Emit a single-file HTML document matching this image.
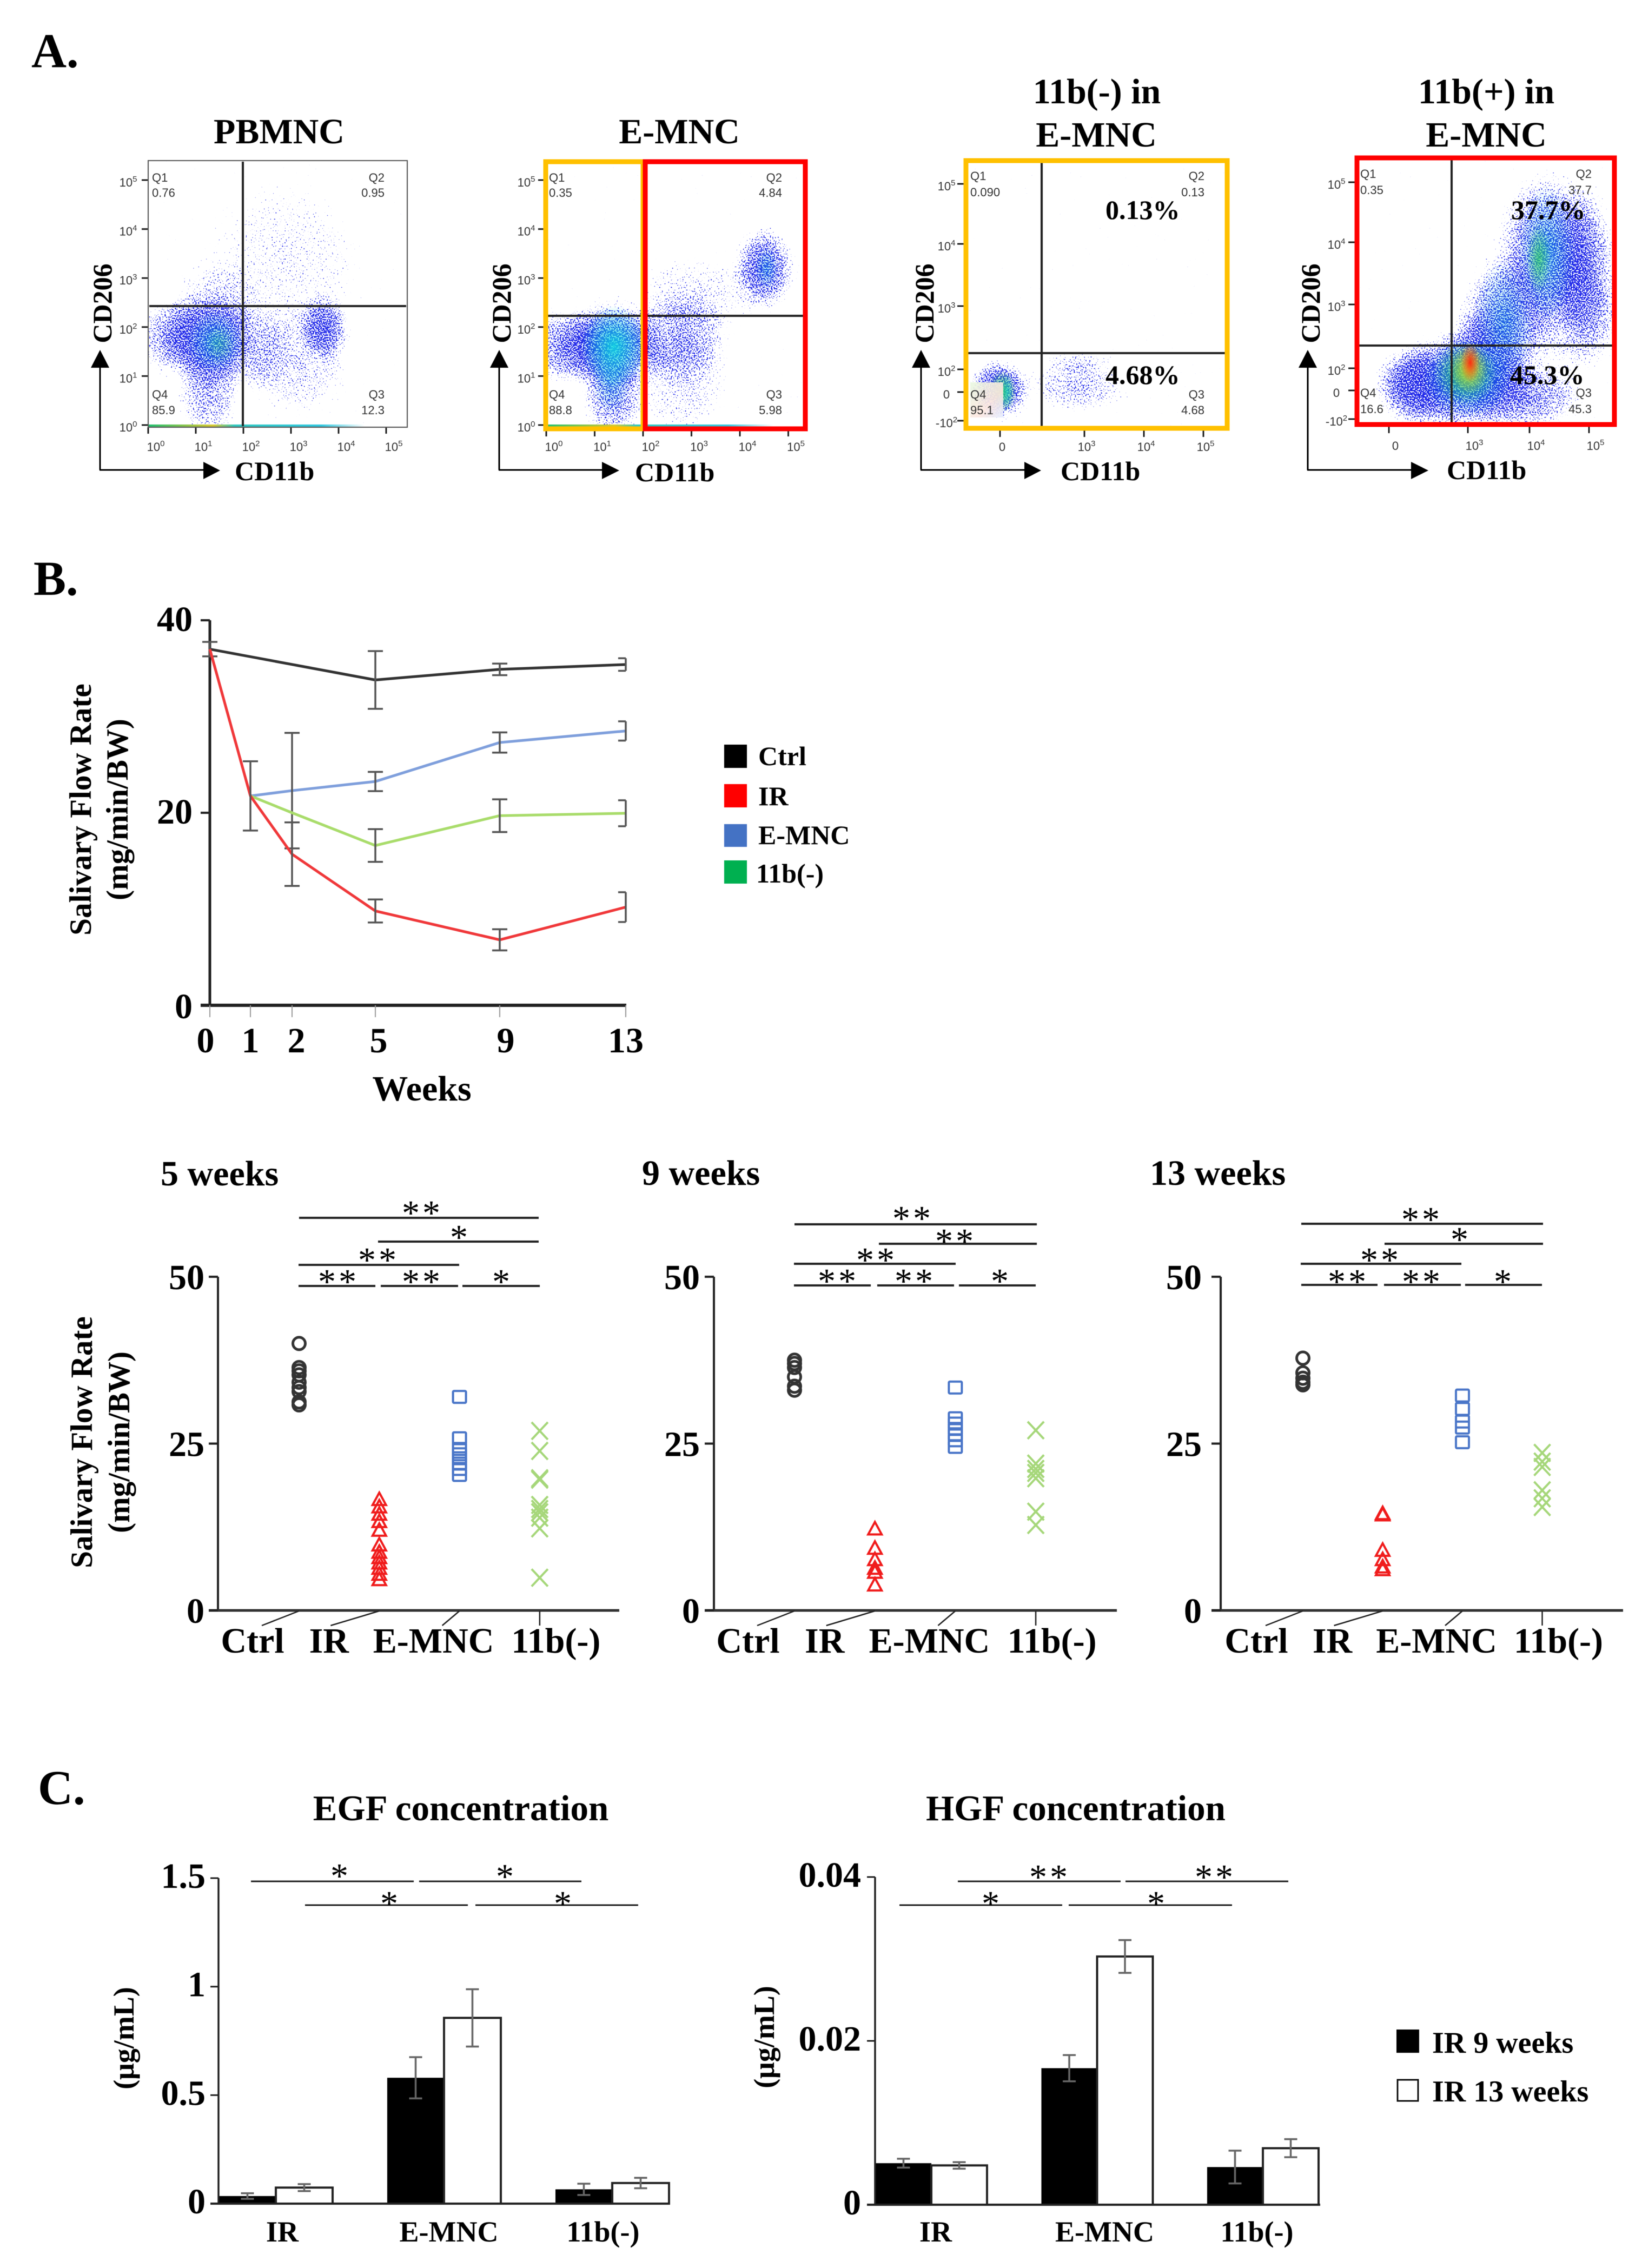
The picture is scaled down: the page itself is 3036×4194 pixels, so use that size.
<!DOCTYPE html>
<html>
<head>
<meta charset="utf-8">
<title>Flow cytometry and salivary flow figure</title>
<style>
html,body{margin:0;padding:0;background:#fff;}
svg{display:block;filter:blur(0.8px);}
text{font-family:"Liberation Serif",serif;font-weight:bold;fill:#000;}
.panel{font-size:90px;}
.t66{font-size:66px;}
.t67{font-size:67px;}
.t50{font-size:50px;}
.t58{font-size:57px;}
.t54{font-size:54px;}
.t56{font-size:56px;}
.pct{font-size:50px;}
.sm{font-family:"Liberation Sans",sans-serif;font-weight:normal;font-size:22px;fill:#333;}
.sup{font-size:15px;}
.star{font-weight:normal;font-size:66px;letter-spacing:5px;}
</style>
</head>
<body>
<svg id="figure" xmlns="http://www.w3.org/2000/svg" width="3036" height="4194" viewBox="0 0 3036 4194">
<defs>
<radialGradient id="lobeFill"><stop offset="0" stop-color="#000" stop-opacity="1"/><stop offset="0.55" stop-color="#000" stop-opacity="0.72"/><stop offset="1" stop-color="#000" stop-opacity="0"/></radialGradient>
<radialGradient id="coreCyan"><stop offset="0" stop-color="#12e4e0" stop-opacity="0.95"/><stop offset="1" stop-color="#12e4e0" stop-opacity="0"/></radialGradient>
<radialGradient id="coreGreen"><stop offset="0" stop-color="#2ccf5a" stop-opacity="0.95"/><stop offset="1" stop-color="#2ccf5a" stop-opacity="0"/></radialGradient>
<radialGradient id="coreYellow"><stop offset="0" stop-color="#e8d820" stop-opacity="0.95"/><stop offset="1" stop-color="#e8d820" stop-opacity="0"/></radialGradient>
<radialGradient id="coreRed"><stop offset="0" stop-color="#ff2a10" stop-opacity="1"/><stop offset="1" stop-color="#ff5a10" stop-opacity="0"/></radialGradient>
<linearGradient id="stripFill" x1="0" x2="1" y1="0" y2="0"><stop offset="0" stop-color="#20c070"/><stop offset="0.3" stop-color="#d8c830"/><stop offset="0.4" stop-color="#30c8c0"/><stop offset="0.8" stop-color="#30c8e0"/><stop offset="1" stop-color="#ffffff"/></linearGradient>
<linearGradient id="paleFill" x1="0" x2="1" y1="0" y2="1"><stop offset="0" stop-color="#e8f8e0"/><stop offset="0.6" stop-color="#fde8e0"/><stop offset="1" stop-color="#e4ecff"/></linearGradient>
<filter id="speckle" x="0" y="0" width="1" height="1" color-interpolation-filters="sRGB">
<feTurbulence type="fractalNoise" baseFrequency="0.42" numOctaves="1" seed="7" result="n"/>
<feColorMatrix in="n" type="matrix" values="0 0 0 0 0  0 0 0 0 0  0 0 0 0 0  2.4 0 0 0 -0.95" result="na"/>
<feComposite in="SourceAlpha" in2="na" operator="arithmetic" k1="0" k2="1" k3="1" k4="-1" result="sum"/>
<feComponentTransfer in="sum" result="mask"><feFuncA type="linear" slope="12"/></feComponentTransfer>
<feFlood flood-color="#1c24e8"/>
<feComposite in2="mask" operator="in"/>
</filter>
<clipPath id="clip-pbmnc"><rect x="274" y="297" width="479" height="493"/></clipPath>
<clipPath id="clip-emnc"><rect x="1007" y="297" width="484" height="498"/></clipPath>
<clipPath id="clip-neg"><rect x="1782" y="293" width="491" height="503"/></clipPath>
<clipPath id="clip-pos"><rect x="2505" y="288" width="484" height="501"/></clipPath>
</defs>
<rect x="0" y="0" width="3036" height="4194" fill="#fff"/>

<text class="panel" x="58" y="124">A.</text>
<text class="panel" x="62" y="1100">B.</text>
<text class="panel" x="70" y="3336">C.</text>

<text class="t66" x="516" y="265" text-anchor="middle">PBMNC</text>
<text class="t66" x="1256" y="265" text-anchor="middle">E-MNC</text>
<text class="t66" x="2028" y="191" text-anchor="middle">11b(-) in</text>
<text class="t66" x="2027" y="271" text-anchor="middle">E-MNC</text>
<text class="t66" x="2748" y="191" text-anchor="middle">11b(+) in</text>
<text class="t66" x="2748" y="271" text-anchor="middle">E-MNC</text>

<g id="flow-layer"></g>

<g>
<text class="t50" transform="translate(206 561) rotate(-90)" text-anchor="middle">CD206</text>
<text class="t50" x="434" y="888">CD11b</text>
<text class="t50" transform="translate(944 561) rotate(-90)" text-anchor="middle">CD206</text>
<text class="t50" x="1174" y="890">CD11b</text>
<text class="t50" transform="translate(1726 561) rotate(-90)" text-anchor="middle">CD206</text>
<text class="t50" x="1961" y="888">CD11b</text>
<text class="t50" transform="translate(2440 561) rotate(-90)" text-anchor="middle">CD206</text>
<text class="t50" x="2675" y="886">CD11b</text>
</g>
<text class="pct" x="2044" y="405">0.13%</text>
<text class="pct" x="2044" y="710">4.68%</text>
<text class="pct" x="2794" y="405">37.7%</text>
<text class="pct" x="2792" y="710">45.3%</text>

<g id="line-chart"></g>
<text class="t58" transform="translate(168 1497) rotate(-90)" text-anchor="middle">Salivary Flow Rate</text>
<text class="t58" transform="translate(236 1497) rotate(-90)" text-anchor="middle">(mg/min/BW)</text>
<text class="t66" x="780" y="2035" text-anchor="middle">Weeks</text>
<g>
<rect x="1339" y="1377" width="42" height="43" fill="#000"/>
<text class="t50" x="1402" y="1415">Ctrl</text>
<rect x="1339" y="1450" width="42" height="43" fill="#ff0000"/>
<text class="t50" x="1402" y="1489">IR</text>
<rect x="1339" y="1524" width="42" height="42" fill="#4472c4"/>
<text class="t50" x="1402" y="1561">E-MNC</text>
<rect x="1339" y="1591" width="42" height="43" fill="#00b050"/>
<text class="t50" x="1398" y="1632">11b(-)</text>
</g>

<text class="t66" x="297" y="2192">5 weeks</text>
<text class="t66" x="1187" y="2191">9 weeks</text>
<text class="t66" x="2126" y="2191">13 weeks</text>
<text class="t58" transform="translate(170 2667) rotate(-90)" text-anchor="middle">Salivary Flow Rate</text>
<text class="t58" transform="translate(239 2667) rotate(-90)" text-anchor="middle">(mg/min/BW)</text>
<g id="dot-charts"></g>

<text class="t67" x="852" y="3366" text-anchor="middle">EGF concentration</text>
<text class="t67" x="1989" y="3366" text-anchor="middle">HGF concentration</text>
<text class="t54" transform="translate(247 3769) rotate(-90)" text-anchor="middle">(μg/mL)</text>
<text class="t54" transform="translate(1431 3767) rotate(-90)" text-anchor="middle">(μg/mL)</text>
<g id="bar-charts"></g>
<g>
<rect x="2582" y="3753" width="42" height="43" fill="#000"/>
<text class="t56" x="2648" y="3796">IR 9 weeks</text>
<rect x="2584" y="3846" width="38" height="39" fill="#fff" stroke="#111" stroke-width="3"/>
<text class="t56" x="2648" y="3886">IR 13 weeks</text>
</g>

<script>
// ---------- Panel B data ----------
const weekTicks = [0, 1, 2, 5, 9, 13];
const lineYTicks = [0, 20, 40];
const ctrlWeeks = [0, 5, 9, 13];
const ctrlValues = [37, 33.8, 34.9, 35.4];
const ctrlErrors = [0.75, 3, 0.6, 0.65];
const irWeeks = [0, 1, 2, 5, 9, 13];
const irValues = [37, 21.75, 15.7, 9.8, 6.8, 10.2];
const irErrors = [0, 3.6, 3.3, 1.2, 1.1, 1.55];
const emncWeeks = [1, 2, 5, 9, 13];
const emncValues = [21.75, 22.3, 23.25, 27.3, 28.5];
const emncErrors = [0, 6, 1, 1.05, 1];
const subWeeks = [1, 2, 5, 9, 13];
const subValues = [21.75, 20, 16.6, 19.7, 19.95];
const subErrors = [0, 0, 1.7, 1.7, 1.35];

// ---------- Dot plot data ----------
const dotCategories = ['Ctrl', 'IR', 'E-MNC', '11b(-)'];
const dotYTicks = [0, 25, 50];
const w5Ctrl = [40, 36.4, 35.9, 35.3, 34.2, 33.4, 32.8, 31.25, 30.8];
const w5IR = [16.6, 15.5, 14.4, 13.3, 12, 9.8, 8.7, 7.9, 7.1, 6.3, 5.4, 4.6];
const w5EMNC = [32, 25.8, 24.2, 23.4, 22.8, 22, 21.2, 20.3];
const w5Sub = [26.9, 23.9, 19.8, 19.6, 15.8, 15.2, 14.7, 13.9, 12.3, 4.9];
const w9Ctrl = [37.5, 37, 36.4, 35, 33.6, 33];
const w9IR = [12.2, 9.3, 7.6, 6.3, 5.7, 3.8];
const w9EMNC = [33.4, 28.8, 28, 27.2, 26.4, 25.5, 24.5];
const w9Sub = [27, 22, 21.2, 20.6, 19.8, 14.8, 12.8];
const w13Ctrl = [37.8, 35.6, 34.8, 34.2, 33.8];
const w13IR = [14.5, 14.3, 9, 7.6, 6.5, 6.1];
const w13EMNC = [32.2, 30.2, 28.3, 27.4, 25.2];
const w13Sub = [23.6, 22.3, 21.5, 18, 16.8, 15.5];

// ---------- Panel C data ----------
const barCategories = ['IR', 'E-MNC', '11b(-)'];
const egfTicks = [0, 0.5, 1, 1.5];
const egfWeek9 = [0.035, 0.58, 0.066];
const egfWeek9Err = [0.013, 0.095, 0.026];
const egfWeek13 = [0.074, 0.856, 0.095];
const egfWeek13Err = [0.016, 0.132, 0.024];
const hgfTicks = [0, 0.02, 0.04];
const hgfWeek9 = [0.00507, 0.01667, 0.0046];
const hgfWeek9Err = [0.00054, 0.0016, 0.002];
const hgfWeek13 = [0.0048, 0.0303, 0.0069];
const hgfWeek13Err = [0.0004, 0.002, 0.0011];

// ---------- Panel A density lobes: [cd11b, cd206, spreadX, spreadY, density] in axis decades ----------
const pbmncLobes = [[1.28,1.78,0.52,0.5,0.95],[1.28,0.73,0.36,0.55,0.7],[3.7,2.0,0.28,0.36,0.85],[3.15,1.28,0.62,0.6,0.5],[0.45,1.8,0.36,0.42,0.7],[2.2,1.6,0.4,0.5,0.5],[2.9,3.4,0.9,0.85,0.38],[1.4,2.6,0.5,0.4,0.42]];
const pbmncCores = [[1.4,1.7,0.3,0.32,'coreCyan',0.4],[1.5,1.65,0.16,0.2,'coreGreen',0.25]];
const emncLobes = [[1.37,1.63,0.56,0.5,1],[1.37,0.58,0.35,0.46,0.78],[0.4,1.6,0.5,0.42,0.78],[2.77,1.78,0.56,0.48,0.68],[4.5,3.2,0.34,0.46,0.92],[3.1,2.7,0.7,0.42,0.42],[2.8,0.8,0.55,0.55,0.45]];
const emncCores = [[1.4,1.6,0.34,0.42,'coreCyan',0.9],[1.35,0.9,0.2,0.34,'coreCyan',0.3],[4.55,3.2,0.12,0.22,'coreCyan',0.3]];
const negLobes = [[1.56,1.63,0.28,0.27,1.1],[2.88,1.69,0.46,0.24,0.58],[2.9,2.1,0.35,0.1,0.4]];
const negCores = [[1.62,1.6,0.12,0.17,'coreGreen',0.95],[1.7,1.6,0.05,0.14,'coreCyan',0.5]];
const posLobes = [[2.7,1.77,0.66,0.42,1.1],[3.64,2.77,0.42,0.58,0.88],[4.33,3.94,0.46,0.66,0.9],[2.09,1.72,0.3,0.3,0.7],[3.9,1.56,0.56,0.3,0.8],[4.94,3.6,0.3,0.72,0.7],[4.8,2.8,0.4,0.5,0.55],[3.2,2.2,0.36,0.4,0.75]];
const posCores = [[3.0,1.85,0.38,0.32,'coreCyan',0.5],[3.6,2.75,0.25,0.5,'coreCyan',0.3],[4.3,3.85,0.24,0.55,'coreCyan',0.4],[2.96,1.94,0.26,0.26,'coreGreen',0.8],[4.17,3.77,0.1,0.28,'coreGreen',0.7],[3.02,2.0,0.16,0.2,'coreYellow',0.85],[3.04,2.1,0.08,0.16,'coreRed',1]];
const decadeTicks = [0, 1, 2, 3, 4, 5];
const biexYTicks = ['-2', '0', 2, 3, 4, 5];
const biexXTicks = ['0', 3, 4, 5];

const SVGNS = 'http://www.w3.org/2000/svg';
function mk(tag, attrs, parent, content) {
  const e = document.createElementNS(SVGNS, tag);
  for (const k in attrs) e.setAttribute(k, attrs[k]);
  if (content !== undefined) e.textContent = content;
  parent.appendChild(e);
  return e;
}
function seg(parent, x1, y1, x2, y2, color, width) {
  return mk('line', {x1: x1, y1: y1, x2: x2, y2: y2, stroke: color, 'stroke-width': width}, parent);
}

// ---------- Flow plots ----------
const flowLayer = document.getElementById('flow-layer');
function tickLabel(parent, x, y, exponent) {
  const t = mk('text', {x: x, y: y, 'text-anchor': 'middle', 'class': 'sm'}, parent);
  
  
  if (exponent === '0') { t.textContent = '0'; return t; }
  const neg = exponent === '-2';
  t.textContent = (neg ? '-10' : '10');
  const s = mk('tspan', {dy: -9, 'class': 'sm sup', style: 'font-size:15px'}, t, neg ? '2' : String(exponent));
  
  
  return t;
}
function quadLabel(parent, x, y, str, anchor) {
  const t = mk('text', {x: x, y: y, 'class': 'sm', 'text-anchor': anchor}, parent, str);
  
  
}
function arrows(parent, vx, baseX, tipX) {
  const v = seg(parent, vx, 869, vx, 670, '#000', 3);
  
  
  const vh = mk('polygon', {points: vx + ',647 ' + (vx - 17) + ',680 ' + (vx + 17) + ',680', fill: '#000'}, parent);
  
  
  const h = seg(parent, vx - 1, 869, baseX, 869, '#000', 3);
  
  
  const hh = mk('polygon', {points: tipX + ',870 ' + baseX + ',854 ' + baseX + ',886', fill: '#000'}, parent);
  
  
}
function flowPlot(cfg) {
  const g = mk('g', {}, flowLayer);
  
  
  const clip = mk('g', {'clip-path': 'url(#' + cfg.clip + ')'}, g);
  
  
  const sp = mk('g', {filter: 'url(#speckle)'}, clip);
  
  
  mk('rect', {x: cfg.box[0], y: cfg.box[1], width: cfg.box[2], height: cfg.box[3], fill: '#000', 'fill-opacity': 0.02}, sp);
  cfg.lobes.forEach(function (l) {
    const e = mk('ellipse', {cx: cfg.x(l[0]), cy: cfg.y(l[1]), rx: Math.abs(cfg.x(l[2]) - cfg.x(0)) * 2.1, ry: Math.abs(cfg.y(l[3]) - cfg.y(0)) * 2.1, fill: 'url(#lobeFill)', 'fill-opacity': Math.min(1, l[4])}, sp);
    
    
  });
  cfg.cores.forEach(function (l) {
    const e = mk('ellipse', {cx: cfg.x(l[0]), cy: cfg.y(l[1]), rx: Math.abs(cfg.x(l[2]) - cfg.x(0)) * 2, ry: Math.abs(cfg.y(l[3]) - cfg.y(0)) * 2, fill: 'url(#' + l[4] + ')', 'fill-opacity': l[5]}, clip);
    
    
  });
  if (cfg.extra) cfg.extra(clip);
  const b = cfg.box;
  // ticks
  cfg.yTicks.forEach(function (p) {
    const t = seg(g, b[0] - 12, p.py, b[0], p.py, '#222', 3);
    
    
    tickLabel(g, cfg.yLabelX, p.py + 12, p.label);
  });
  cfg.xTicks.forEach(function (p) {
    const t = seg(g, p.px, b[1] + b[3], p.px, b[1] + b[3] + 12, '#222', 3);
    
    
    tickLabel(g, p.px + cfg.xLabelDx, cfg.xLabelY, p.label);
  });
  // gates
  const gv = seg(g, cfg.gateX, b[1] + 2, cfg.gateX, b[1] + b[3] - 2, '#222', 4);
  
  
  const gh = seg(g, b[0] + 2, cfg.gateY, b[0] + b[2] - 2, cfg.gateY, '#222', 4);
  
  
  cfg.frames.forEach(function (f) {
    const r = mk('rect', {x: f[0], y: f[1], width: f[2], height: f[3], fill: 'none', stroke: f[4], 'stroke-width': f[5]}, g);
    
    
  });
  quadLabel(g, cfg.qLeft, cfg.qRows[0], 'Q1', 'start');
  quadLabel(g, cfg.qLeft, cfg.qRows[1], cfg.q[0], 'start');
  quadLabel(g, cfg.qRight, cfg.qRows[0], 'Q2', 'end');
  quadLabel(g, cfg.qRight, cfg.qRows[1], cfg.q[1], 'end');
  quadLabel(g, cfg.qLeft, cfg.qRows[2], 'Q4', 'start');
  quadLabel(g, cfg.qLeft, cfg.qRows[3], cfg.q[2], 'start');
  quadLabel(g, cfg.qRight, cfg.qRows[2], 'Q3', 'end');
  quadLabel(g, cfg.qRight, cfg.qRows[3], cfg.q[3], 'end');
  arrows(g, cfg.arrow[0], cfg.arrow[1], cfg.arrow[2]);
}
function logX(x0, k) { return function (v) { return x0 + k * v; }; }
function logY(y0, k) { return function (v) { return y0 - k * v; }; }

const p1x = logX(274, 88), p1y = logY(786, 90.6);
flowPlot({name: 'pbmnc', clip: 'clip-pbmnc', box: [274, 297, 479, 493], lobes: pbmncLobes, cores: pbmncCores, x: p1x, y: p1y,
  yTicks: decadeTicks.map(function (d) { return {py: p1y(d), label: d}; }),
  xTicks: decadeTicks.map(function (d) { return {px: p1x(d), label: d}; }),
  yLabelX: 237, xLabelDx: 14, xLabelY: 834, gateX: 449, gateY: 566,
  frames: [[274, 297, 479, 493, '#555', 2]],
  qLeft: 281, qRight: 711, qRows: [336, 364, 737, 766], q: ['0.76', '0.95', '85.9', '12.3'], arrow: [185, 376, 407],
  extra: function (c) {
    const s = mk('rect', {x: 274, y: 785, width: 400, height: 5, fill: 'url(#stripFill)'}, c);
    
    
  }
});
const p2x = logX(1010, 89.5), p2y = logY(786, 90.6);
flowPlot({name: 'e-mnc', clip: 'clip-emnc', box: [1007, 297, 484, 498], lobes: emncLobes, cores: emncCores, x: p2x, y: p2y,
  yTicks: decadeTicks.map(function (d) { return {py: p2y(d), label: d}; }),
  xTicks: decadeTicks.map(function (d) { return {px: p2x(d), label: d}; }),
  yLabelX: 973, xLabelDx: 14, xLabelY: 834, gateX: 1191, gateY: 584,
  frames: [[1009, 299, 180, 494, '#ffc000', 9], [1193, 299, 296, 494, '#ff0000', 9]],
  qLeft: 1015, qRight: 1446, qRows: [336, 364, 737, 766], q: ['0.35', '4.84', '88.8', '5.98'], arrow: [923, 1113, 1145],
  extra: function (c) {
    const w = mk('rect', {x: 1012, y: 706, width: 58, height: 80, fill: '#fff'}, c);
    
    
    const s = mk('rect', {x: 1010, y: 785, width: 420, height: 5, fill: 'url(#stripFill)'}, c);
    
    
  }
});
const p3x = function (u) { return 2225 - (5 - u) * 110; }, p3y = function (u) { return 340 + (5 - u) * 113; };
flowPlot({name: '11b-negative', clip: 'clip-neg', box: [1782, 293, 491, 503], lobes: negLobes, cores: negCores, x: p3x, y: p3y,
  yTicks: [{py: 778, label: '-2'}, {py: 725, label: '0'}, {py: 683, label: 2}, {py: 566, label: 3}, {py: 451, label: 4}, {py: 340, label: 5}],
  xTicks: [{px: 1849, label: '0'}, {px: 2005, label: 3}, {px: 2115, label: 4}, {px: 2225, label: 5}],
  yLabelX: 1750, xLabelDx: 4, xLabelY: 834, gateX: 1926, gateY: 653,
  frames: [[1786, 297, 483, 495, '#ffc000', 9]],
  qLeft: 1794, qRight: 2227, qRows: [333, 363, 737, 766], q: ['0.090', '0.13', '95.1', '4.68'], arrow: [1703, 1894, 1925],
  extra: function (c) {
    const w = mk('rect', {x: 1794, y: 707, width: 61, height: 65, fill: 'url(#paleFill)', opacity: 0.92}, c);
    
    
  }
});
const p4x = function (u) { return 2938 - (5 - u) * 112; }, p4y = function (u) { return 337 + (5 - u) * 115; };
flowPlot({name: '11b-positive', clip: 'clip-pos', box: [2505, 288, 484, 501], lobes: posLobes, cores: posCores, x: p4x, y: p4y,
  yTicks: [{py: 775, label: '-2'}, {py: 722, label: '0'}, {py: 681, label: 2}, {py: 563, label: 3}, {py: 448, label: 4}, {py: 337, label: 5}],
  xTicks: [{px: 2568, label: '0'}, {px: 2714, label: 3}, {px: 2828, label: 4}, {px: 2938, label: 5}],
  yLabelX: 2471, xLabelDx: 12, xLabelY: 832, gateX: 2684, gateY: 639,
  frames: [[2509, 292, 476, 493, '#ff0000', 9]],
  qLeft: 2515, qRight: 2943, qRows: [329, 359, 734, 764], q: ['0.35', '37.7', '16.6', '45.3'], arrow: [2418, 2609, 2641]
});

// ---------- Line chart ----------
const lineG = document.getElementById('line-chart');
function xW(w) {
  if (w <= 1) return 388 + 75 * w;
  if (w <= 2) return 463 + 77 * (w - 1);
  if (w <= 5) return 540 + 51.33 * (w - 2);
  if (w <= 9) return 694 + 57.5 * (w - 5);
  return 924 + 58.25 * (w - 9);
}
function yFlow(v) { return 1859 - v * 17.8; }
function drawSeries(name, color, weeks, values, errors) {
  const s = mk('g', {}, lineG);
  
  
  const pts = weeks.map(function (w, i) { return xW(w) + ',' + yFlow(values[i]); }).join(' ');
  const line = mk('polyline', {points: pts, fill: 'none', stroke: color, 'stroke-width': 5, 'stroke-linejoin': 'round'}, s);
  
  
  weeks.forEach(function (w, i) {
    if (!errors[i]) return;
    const x = xW(w), top = yFlow(values[i] + errors[i]), bot = yFlow(values[i] - errors[i]);
    const right = w === 13 ? 0 : 14;
    const eb = mk('path', {d: 'M' + x + ' ' + top + 'V' + bot + 'M' + (x - 14) + ' ' + top + 'H' + (x + right) + 'M' + (x - 14) + ' ' + bot + 'H' + (x + right), fill: 'none', stroke: '#555', 'stroke-width': 3.5}, s);
    
    
  });
}
(function () {
  const ya = seg(lineG, 388, 1147, 388, 1859, '#222', 5);
  
  
  const xa = seg(lineG, 371, 1859, 1158, 1859, '#222', 6);
  
  
  lineYTicks.forEach(function (v) {
    const t = seg(lineG, 371, yFlow(v), 388, yFlow(v), '#222', 4);
    
    
    const l = mk('text', {x: 356, y: yFlow(v) + (v === 0 ? 24 : 20), 'text-anchor': 'end', 'class': 't66'}, lineG, String(v));
    
    
  });
  weekTicks.forEach(function (w) {
    const t = seg(lineG, xW(w), 1859, xW(w), 1881, '#999', 2);
    
    
    const shift = w === 0 ? -8 : (w === 2 ? 8 : (w === 5 ? 6 : (w === 9 ? 11 : 0)));
    const l = mk('text', {x: xW(w) + shift, y: 1946, 'text-anchor': 'middle', 'class': 't66'}, lineG, String(w));
    
    
  });
})();
drawSeries('ctrl', '#333333', ctrlWeeks, ctrlValues, ctrlErrors);
drawSeries('emnc', '#7f9fdc', emncWeeks, emncValues, emncErrors);
drawSeries('11b', '#a9dc6b', subWeeks, subValues, subErrors);
drawSeries('ir', '#f0383a', irWeeks, irValues, irErrors);

// ---------- Significance brackets ----------
function sig(parent, x1, x2, y, stars, starX, starY, width) {
  const l = seg(parent, x1, y, x2, y, '#222', width);
  
  
  const t = mk('text', {x: starX + 2, y: starY + 31, 'text-anchor': 'middle', 'class': 'star'}, parent, stars);
  
  
}

// ---------- Dot plots ----------
const dotRoot = document.getElementById('dot-charts');
function yDot(v) { return 2978 - v * 12.34; }
function dotChart(cfg) {
  const g = mk('g', {}, dotRoot);
  
  
  const cat = function (i) { return cfg.first + cfg.step * i; };
  const ya = seg(g, cfg.axisX, yDot(50), cfg.axisX, yDot(0), '#222', 4);
  
  
  const xa = seg(g, cfg.axisX - 17, yDot(0), cfg.axisEnd, yDot(0), '#333', 5);
  
  
  dotYTicks.forEach(function (v) {
    const t = seg(g, cfg.axisX - 17, yDot(v), cfg.axisX, yDot(v), '#222', 4);
    
    
    const l = mk('text', {x: cfg.labelRight, y: yDot(v) + 23, 'text-anchor': 'end', 'class': 't66'}, g, String(v));
    
    
  });
  const slant = [-69, -90, -32, 0];
  const shift = [-86, -93, -48, 30];
  dotCategories.forEach(function (c, i) {
    const t = seg(g, cat(i), 2979, cat(i) + slant[i], 3006, '#222', 2.5);
    
    
    const l = mk('text', {x: cat(i) + shift[i], y: 3056, 'text-anchor': 'middle', 'class': 't66'}, g, c);
    
    
  });
  cfg.ctrl.forEach(function (v) {
    const m = mk('circle', {cx: cat(0), cy: yDot(v), r: 11.5, fill: 'none', stroke: '#333', 'stroke-width': 5}, g);
    
    
  });
  cfg.ir.forEach(function (v) {
    const x = cat(1), y = yDot(v);
    const m = mk('polygon', {points: x + ',' + (y - 13) + ' ' + (x + 12.5) + ',' + (y + 10) + ' ' + (x - 12.5) + ',' + (y + 10), fill: 'none', stroke: '#f01c1c', 'stroke-width': 4}, g);
    
    
  });
  cfg.emnc.forEach(function (v) {
    const x = cat(2), y = yDot(v);
    const m = mk('rect', {x: x - 12, y: y - 11, width: 24, height: 22, rx: 2, fill: 'none', stroke: '#4a76c8', 'stroke-width': 4}, g);
    
    
  });
  cfg.sub.forEach(function (v) {
    const x = cat(3), y = yDot(v);
    const m = mk('path', {d: 'M' + (x - 15) + ' ' + (y - 16) + 'L' + (x + 15) + ' ' + (y + 16) + 'M' + (x + 15) + ' ' + (y - 16) + 'L' + (x - 15) + ' ' + (y + 16), fill: 'none', stroke: '#a6d77a', 'stroke-width': 4}, g);
    
    
  });
  cfg.sig.forEach(function (s) { sig(g, s[0], s[1], s[2], s[3], s[4], s[5], 4); });
}
dotChart({name: '5-weeks', axisX: 403, axisEnd: 1145, first: 553, step: 148.3, labelRight: 378,
  ctrl: w5Ctrl, ir: w5IR, emnc: w5EMNC, sub: w5Sub,
  sig: [[553, 996, 2252, '**', 779, 2234], [699, 996, 2296, '*', 849, 2279], [552, 849, 2339, '**', 698, 2321], [552, 694, 2378, '**', 624, 2361], [704, 847, 2378, '**', 779, 2361], [855, 998, 2378, '*', 927, 2361]]});
dotChart({name: '9-weeks', axisX: 1320, axisEnd: 2065, first: 1469, step: 148.7, labelRight: 1294,
  ctrl: w9Ctrl, ir: w9IR, emnc: w9EMNC, sub: w9Sub,
  sig: [[1469, 1917, 2264, '**', 1686, 2244], [1625, 1917, 2300, '**', 1765, 2286], [1468, 1767, 2337, '**', 1619, 2321], [1468, 1610, 2377, '**', 1548, 2360], [1622, 1764, 2377, '**', 1690, 2360], [1773, 1915, 2377, '*', 1849, 2360]]});
dotChart({name: '13-weeks', axisX: 2257, axisEnd: 3001, first: 2409, step: 147.5, labelRight: 2222,
  ctrl: w13Ctrl, ir: w13IR, emnc: w13EMNC, sub: w13Sub,
  sig: [[2406, 2853, 2263, '**', 2627, 2246], [2560, 2853, 2300, '*', 2699, 2283], [2405, 2702, 2337, '**', 2551, 2321], [2406, 2547, 2376, '**', 2491, 2361], [2559, 2701, 2376, '**', 2628, 2361], [2709, 2851, 2376, '*', 2779, 2361]]});

// ---------- Bar charts ----------
const barRoot = document.getElementById('bar-charts');
function barChart(cfg) {
  const g = mk('g', {}, barRoot);
  
  
  const y = function (v) { return cfg.y0 - v * cfg.k; };
  const gx = function (i) { return cfg.first + cfg.step * i; };
  barCategories.forEach(function (c, i) {
    const b = mk('rect', {x: gx(i) - cfg.w, y: y(cfg.a[i]), width: cfg.w, height: cfg.y0 - y(cfg.a[i]), fill: '#000'}, g);
    
    
    const w = mk('rect', {x: gx(i), y: y(cfg.b[i]), width: cfg.w, height: cfg.y0 - y(cfg.b[i]), fill: '#fff', stroke: '#222', 'stroke-width': 4}, g);
    
    
    [[gx(i) - cfg.w / 2, cfg.a[i], cfg.ae[i]], [gx(i) + cfg.w / 2, cfg.b[i], cfg.be[i]]].forEach(function (p) {
      const t = y(p[1] + p[2]), u = y(p[1] - p[2]);
      const e = mk('path', {d: 'M' + p[0] + ' ' + t + 'V' + u + 'M' + (p[0] - 12) + ' ' + t + 'H' + (p[0] + 12) + 'M' + (p[0] - 12) + ' ' + u + 'H' + (p[0] + 12), fill: 'none', stroke: '#666', 'stroke-width': 3.5}, g);
      
      
    });
    const l = mk('text', {x: gx(i) + cfg.shift[i], y: 4145, 'text-anchor': 'middle', 'class': 't54'}, g, c);
    
    
  });
  const ya = seg(g, cfg.axisX, y(cfg.ticks[cfg.ticks.length - 1]), cfg.axisX, cfg.y0, '#222', 3.5);
  
  
  const xa = seg(g, cfg.axisX - 15, cfg.y0, cfg.axisEnd, cfg.y0, '#222', 4);
  
  
  cfg.ticks.forEach(function (v) {
    const t = seg(g, cfg.axisX - 15, y(v), cfg.axisX, y(v), '#222', 3);
    
    
    const l = mk('text', {x: cfg.labelRight, y: y(v) + 18, 'text-anchor': 'end', 'class': 't66'}, g, String(v));
    
    
  });
  cfg.sig.forEach(function (s) { sig(g, s[0], s[1], s[2], s[3], s[4], s[5], 3); });
}
barChart({name: 'egf', y0: 4075, k: 401.3, first: 510, step: 311, w: 105, axisX: 404, axisEnd: 1238, labelRight: 380,
  ticks: egfTicks, a: egfWeek9, ae: egfWeek9Err, b: egfWeek13, be: egfWeek13Err, shift: [12, 9, -17],
  sig: [[464, 765, 3479, '*', 628, 3460], [775, 1075, 3479, '*', 934, 3461], [564, 865, 3523, '*', 720, 3511], [879, 1180, 3523, '*', 1041, 3511]]});
barChart({name: 'hgf', y0: 4077, k: 15150, first: 1722, step: 306.5, w: 103, axisX: 1618, axisEnd: 2441, labelRight: 1592,
  ticks: hgfTicks, a: hgfWeek9, ae: hgfWeek9Err, b: hgfWeek13, be: hgfWeek13Err, shift: [8, 14, -11],
  sig: [[1771, 2072, 3479, '**', 1939, 3462], [2081, 2382, 3479, '**', 2245, 3462], [1663, 1964, 3523, '*', 1832, 3511], [1976, 2278, 3523, '*', 2138, 3511]]});
</script>
</svg>
</body>
</html>
